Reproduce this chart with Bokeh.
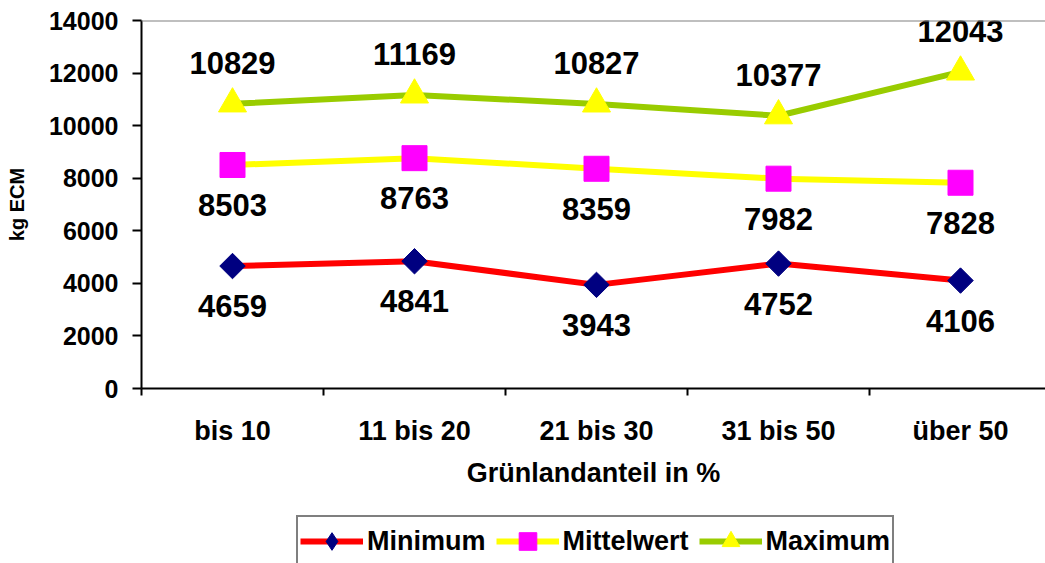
from bokeh.plotting import figure
from bokeh.layouts import column
from bokeh.models import (Range1d, FixedTicker, Span, Legend, LegendItem, ColumnDataSource)
from bokeh.core.properties import value
from bokeh.embed import file_html
from bokeh.resources import INLINE
import math

categories = ["bis 10", "11 bis 20", "21 bis 30", "31 bis 50", "über 50"]
minimum = [4659, 4841, 3943, 4752, 4106]
mittelwert = [8503, 8763, 8359, 7982, 7828]
maximum = [10829, 11169, 10827, 10377, 12043]
y_ticks = [0, 2000, 4000, 6000, 8000, 10000, 12000, 14000]
series_names = ["Minimum", "Mittelwert", "Maximum"]

FONT = "Liberation Sans"
xs = [i + 0.5 for i in range(len(categories))]

W = 1045
LEFT, TOP, FRAME_H, BOTTOM = 141, 20, 368, 118
LEG_H = 57
p = figure(width=W, height=TOP + FRAME_H + BOTTOM, output_backend="svg", toolbar_location=None,
           x_range=Range1d(0, (W - LEFT) / 182), y_range=Range1d(0, 14000),
           min_border_left=LEFT, min_border_right=0, min_border_top=TOP,
           min_border_bottom=BOTTOM)
p.xgrid.visible = False
p.ygrid.visible = False
p.outline_line_color = None
p.background_fill_color = "white"
p.border_fill_color = "white"

# top frame line
p.add_layout(Span(location=14000, dimension="width", line_color="#808080", line_width=2))

# axes
p.yaxis.ticker = FixedTicker(ticks=y_ticks)
p.yaxis.axis_line_color = "black"
p.yaxis.axis_line_width = 2
p.yaxis.major_tick_line_width = 2
p.yaxis.major_tick_out = 9
p.yaxis.major_tick_in = 0
p.yaxis.minor_tick_line_color = None
p.yaxis.major_label_text_font = FONT
p.yaxis.major_label_text_font_style = "bold"
p.yaxis.major_label_text_font_size = "25px"
p.yaxis.major_label_text_color = "black"
p.yaxis.major_label_standoff = 14
p.yaxis.axis_label = "kg ECM"
p.yaxis.axis_label_text_font = FONT
p.yaxis.axis_label_text_font_style = "bold"
p.yaxis.axis_label_text_font_size = "20px"
p.yaxis.axis_label_text_color = "black"
p.yaxis.axis_label_standoff = 18

p.xaxis.ticker = FixedTicker(ticks=xs, minor_ticks=list(range(len(categories) + 1)))
p.xaxis.major_label_overrides = {x: c for x, c in zip(xs, categories)}
p.xaxis.axis_line_color = "black"
p.xaxis.axis_line_width = 2
p.xaxis.major_tick_line_color = None
p.xaxis.major_tick_out = 7
p.xaxis.major_tick_in = 0
p.xaxis.minor_tick_line_color = "black"
p.xaxis.minor_tick_line_width = 2
p.xaxis.minor_tick_out = 7
p.xaxis.minor_tick_in = 0
p.xaxis.major_label_text_font = FONT
p.xaxis.major_label_text_font_style = "bold"
p.xaxis.major_label_text_font_size = "27px"
p.xaxis.major_label_text_color = "black"
p.xaxis.major_label_standoff = 20
p.xaxis.axis_label = "Grünlandanteil in %"
p.xaxis.axis_label_text_font = FONT
p.xaxis.axis_label_text_font_style = "bold"
p.xaxis.axis_label_text_font_size = "27px"
p.xaxis.axis_label_text_color = "black"
p.xaxis.axis_label_standoff = 9

src = ColumnDataSource(dict(x=xs, mn=minimum, mw=mittelwert, mx=maximum,
                            mn_t=[str(v) for v in minimum],
                            mw_t=[str(v) for v in mittelwert],
                            mx_t=[str(v) for v in maximum]))

LINE_STYLES = [dict(line_color="#FF0000", line_width=6),
               dict(line_color="#FFFF00", line_width=6),
               dict(line_color="#99CC00", line_width=6)]
MARKER_STYLES = [dict(marker="square", angle=math.pi / 4, fill_color="#000080", line_color="#000080"),
                 dict(marker="square", fill_color="#FF00FF", line_color="#FF00FF"),
                 dict(marker="triangle", fill_color="#FFFF00", line_color="#FFFF00")]
LEGEND_MARKER_STYLES = [dict(marker="diamond", fill_color="#000080", line_color="#000080"),
                        dict(marker="square", fill_color="#FF00FF", line_color="#FF00FF"),
                        dict(marker="triangle", fill_color="#FFFF00", line_color="#FFFF00")]
MARKER_SIZES = [18, 25, 28]
cols = ["mn", "mw", "mx"]

for c, ls in zip(cols, LINE_STYLES):
    p.line("x", c, source=src, **ls)
for c, ms, sz in zip(cols, MARKER_STYLES, MARKER_SIZES):
    p.scatter("x", c, source=src, size=sz, **ms)

common = dict(source=src, text_align="center", text_baseline="middle",
              text_font=value(FONT), text_font_style="bold", text_font_size="31px",
              text_color="black")
p.text("x", "mn", text="mn_t", y_offset=40, **common)
p.text("x", "mw", text="mw_t", y_offset=40, **common)
p.text("x", "mx", text="mx_t", y_offset=-41, **common)

# legend strip below the chart
lf = figure(width=W, height=LEG_H, output_backend="svg", toolbar_location=None,
            x_range=Range1d(100, 101), y_range=Range1d(100, 101),
            x_axis_location=None, y_axis_location=None,
            min_border=0, min_border_left=0, min_border_right=0,
            min_border_top=0, min_border_bottom=0)
lf.xgrid.visible = False
lf.ygrid.visible = False
lf.outline_line_color = None
lf.border_fill_color = "white"

items = []
for name, c, ls, ms, sz in zip(series_names, cols, LINE_STYLES, LEGEND_MARKER_STYLES, MARKER_SIZES):
    lr = lf.line("x", c, source=src, **ls)
    sr = lf.scatter("x", c, source=src, size=sz, **ms)
    items.append(LegendItem(label=name, renderers=[lr, sr]))

legend = Legend(items=items, orientation="horizontal", location=(155, -4),
                glyph_width=63, glyph_height=44, label_standoff=4, spacing=10,
                padding=2, margin=0, border_line_color="black", border_line_width=2,
                background_fill_color="white", background_fill_alpha=1.0,
                label_text_font=FONT, label_text_font_style="bold",
                label_text_font_size="27px", label_text_color="black")
lf.add_layout(legend, "center")

layout = column(p, lf, spacing=0)
open("out.html", "w").write(file_html(layout, INLINE))
